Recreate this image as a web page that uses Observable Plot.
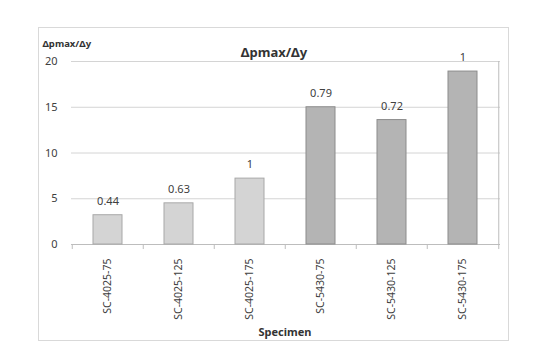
<!DOCTYPE html>
<html>
<head>
<meta charset="utf-8">
<script src="https://cdn.jsdelivr.net/npm/d3@7"></script>
<script src="https://cdn.jsdelivr.net/npm/@observablehq/plot@0.6"></script>
<style>
  html, body { margin: 0; padding: 0; background: #fff; }
  #wrap { position: relative; width: 547px; height: 344px; overflow: hidden; }
  #box { position: absolute; left: 38px; top: 27px; width: 471px; height: 314px; border: 1px solid #d9d9d9; box-sizing: border-box; }
  #chart { position: absolute; left: 0; top: 0; }
</style>
</head>
<body>
<div id="wrap"><div id="box"></div><div id="chart"></div></div>
<script>
const specimens = ["SC-4025-75", "SC-4025-125", "SC-4025-175", "SC-5430-75", "SC-5430-125", "SC-5430-175"];
const values = [3.2, 4.5, 7.2, 15.0, 13.6, 18.9];
const labels = ["0.44", "0.63", "1", "0.79", "0.72", "1"];
const groups = ["4025", "4025", "4025", "5430", "5430", "5430"];
const yTicks = [0, 5, 10, 15, 20];

const data = specimens.map((s, i) => ({specimen: s, value: values[i], label: labels[i], group: groups[i]}));

const W = 547, H = 344, ml = 71, mr = 47, mt = 61, mb = 100;
const step = (W - ml - mr) / specimens.length;
const font = "'Noto Sans', 'DejaVu Sans', sans-serif";

const chart = Plot.plot({
  width: W, height: H,
  marginLeft: ml, marginRight: mr, marginTop: mt, marginBottom: mb,
  style: {fontFamily: font, fontSize: "11px", color: "#404040", background: "transparent"},
  x: {domain: specimens, paddingInner: 0.59, paddingOuter: 0.295, label: null},
  y: {domain: [0, 20], label: null},
  color: {domain: ["4025", "5430"], range: ["#d4d4d4", "#b4b4b4"]},
  marks: [
    Plot.gridY(yTicks.filter(d => d > 0), {stroke: "#d4d4d4", strokeOpacity: 1}),
    Plot.ruleY([0], {stroke: "#bdbdbd"}),
    Plot.barY(data, {x: "specimen", y: "value", fill: "group", stroke: d => d.group === "4025" ? "#a8a8a8" : "#8c8c8c", strokeWidth: 1}),
    Plot.ruleX(specimens, {x: d => d, dx: -step / 2, y1: 0, y2: -0.55, stroke: "#bdbdbd"}),
    Plot.ruleX([specimens[specimens.length - 1]], {x: d => d, dx: step / 2, y1: -0.55, y2: 20, stroke: "#bdbdbd"}),
    Plot.text(data, {x: "specimen", y: "value", text: "label", dy: -14, fill: "#404040", fontSize: 11}),
    Plot.axisY({ticks: yTicks, tickSize: 0, tickPadding: 14, fontSize: 11, fill: "#404040", label: null}),
    Plot.axisX({tickSize: 0, tickPadding: 14, tickRotate: -90, fontSize: 10.5, fill: "#404040", label: null}),
    Plot.text(["Δpmax/Δy"], {frameAnchor: "top", dx: -12, dy: -14, fontWeight: "bold", fontSize: 13, fill: "#333"}),
    Plot.text(["Δpmax/Δy"], {frameAnchor: "top-left", textAnchor: "start", dx: -29, dy: -21, fontWeight: "bold", fontSize: 9.5, fill: "#333"}),
    Plot.text(["Specimen"], {frameAnchor: "bottom", dx: -1, dy: 91, fontWeight: "bold", fontSize: 11, fill: "#333"})
  ]
});
document.getElementById("chart").appendChild(chart);
</script>
</body>
</html>
